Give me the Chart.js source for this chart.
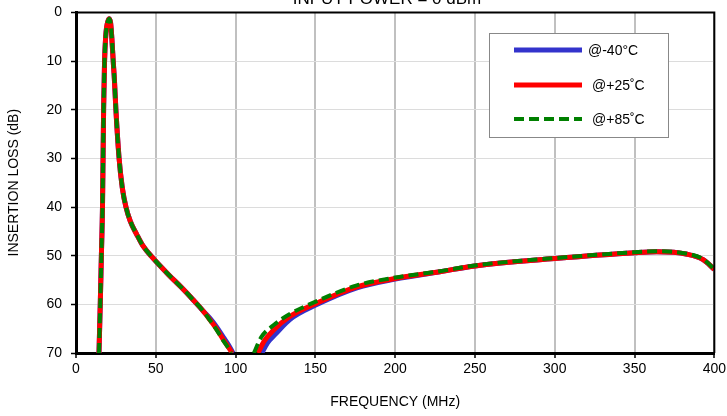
<!DOCTYPE html>
<html>
<head>
<meta charset="utf-8">
<script src="https://cdn.jsdelivr.net/npm/chart.js@4.4.0/dist/chart.umd.min.js"></script>
<style>
  html, body { margin: 0; padding: 0; background: #fff; overflow: hidden; }
  #wrap { width: 727px; height: 416px; position: relative; overflow: hidden; }
  #lossChart { position: absolute; left: 0; top: -5px; }
</style>
</head>
<body>
<div id="wrap"><canvas id="lossChart" width="729" height="421"></canvas></div>
<script>
// shared filter skirt (all three temperatures overlap here)
var skirtFreq = [14.4, 15.2, 15.9, 16.6, 17.3, 17.9, 18.6, 19.2, 20.0, 20.9, 21.7, 22.4, 23.3, 24.1, 25.0, 27.0, 29.0, 31.3, 34.0, 38.0, 42.0, 48.0, 58.0, 66.0, 73.5, 80.0];
var skirtLoss = [70, 60, 50, 40, 20, 10, 5, 3, 1.8, 1.3, 2.2, 5, 9.9, 14, 20, 30, 36, 40, 42.9, 45.6, 48.0, 50.4, 53.9, 56.5, 59.1, 61.5];

// -40C
var fallFreqCold = [84, 88, 92.4, 95.5, 98.4];
var fallLossCold = [62.9, 64.6, 66.8, 68.3, 70];
var riseFreqCold = [116.5, 120, 125, 134, 150.5, 176, 200, 228, 250, 300, 350, 364, 383, 393, 400];
var riseLossCold = [70, 67.9, 66.1, 63.1, 60.1, 56.6, 54.8, 53.3, 52.1, 50.6, 49.4, 49.2, 49.7, 50.8, 52.8];

// +25C
var fallFreqRoom = [84, 88, 92.4, 95.5, 97.8];
var fallLossRoom = [63.2, 65, 67.3, 68.8, 70];
var riseFreqRoom = [114, 118, 123.7, 134, 150.5, 176, 200, 228, 250, 300, 350, 364, 383, 393, 400];
var riseLossRoom = [70, 67.5, 65.3, 62.5, 59.8, 56.4, 54.7, 53.3, 52.1, 50.6, 49.4, 49.2, 49.7, 50.8, 52.8];

// +85C
var fallFreqHot = [84, 88, 92.4, 95.5, 97.2];
var fallLossHot = [63.3, 65.2, 67.5, 69, 70];
var riseFreqHot = [111.5, 116, 123.7, 134, 150.5, 176, 200, 228, 250, 300, 350, 364, 383, 393, 400];
var riseLossHot = [70, 66.8, 64.3, 62, 59.4, 56.1, 54.5, 53.2, 52, 50.5, 49.3, 49.1, 49.6, 50.7, 52.8];

var xTicks = [0, 50, 100, 150, 200, 250, 300, 350, 400];
var yTicks = [0, 10, 20, 30, 40, 50, 60, 70];
var seriesNames = ['@-40\u00B0C', '@+25\u02DAC', '@+85\u02DAC'];

function buildPoints(fallF, fallL, riseF, riseL) {
  var pts = [];
  skirtFreq.forEach(function(f, i) { pts.push({x: f, y: skirtLoss[i]}); });
  fallF.forEach(function(f, i) { pts.push({x: f, y: fallL[i]}); });
  pts.push({x: 105, y: null});
  riseF.forEach(function(f, i) { pts.push({x: f, y: riseL[i]}); });
  return pts;
}

var FONT = 'Liberation Sans, Arial, sans-serif';
var SHIFT = 5; // canvas sits 5px above the page

var frame = {
  id: 'frame',
  afterDraw: function(chart) {
    var ctx = chart.ctx, a = chart.chartArea;
    ctx.save();
    ctx.strokeStyle = '#000';
    ctx.lineWidth = 2;
    ctx.beginPath();
    ctx.moveTo(a.left, a.top);
    ctx.lineTo(a.right, a.top);
    ctx.lineTo(a.right, a.bottom);
    ctx.stroke();

    // title, partly cut by the top edge
    ctx.fillStyle = '#000';
    ctx.font = '17px ' + FONT;
    ctx.textAlign = 'center';
    ctx.textBaseline = 'alphabetic';
    ctx.fillText('INPUT POWER = 0 dBm', 387, 4 + SHIFT);

    // legend box
    var bx = 489, by = 33 + SHIFT, bw = 179, bh = 104;
    ctx.fillStyle = '#fff';
    ctx.fillRect(bx, by, bw, bh);
    ctx.strokeStyle = '#888';
    ctx.lineWidth = 1;
    ctx.strokeRect(bx + 0.5, by + 0.5, bw, bh);
    var rows = [50, 85, 119];
    ctx.font = '14px ' + FONT;
    ctx.textAlign = 'left';
    ctx.textBaseline = 'middle';
    chart.data.datasets.forEach(function(ds, i) {
      var ry = rows[i] + SHIFT;
      ctx.save();
      ctx.strokeStyle = ds.borderColor;
      ctx.lineWidth = ds.borderWidth;
      ctx.setLineDash(ds.borderDash || []);
      ctx.lineCap = 'butt';
      ctx.beginPath();
      ctx.moveTo(514, ry);
      ctx.lineTo(582, ry);
      ctx.stroke();
      ctx.restore();
      ctx.fillStyle = '#000';
      ctx.fillText(ds.label, i === 0 ? 588 : 592, ry + 1);
    });
    ctx.restore();
  }
};

var ctx = document.getElementById('lossChart').getContext('2d');
new Chart(ctx, {
  type: 'line',
  data: {
    datasets: [{
      label: seriesNames[0],
      data: buildPoints(fallFreqCold, fallLossCold, riseFreqCold, riseLossCold),
      borderColor: '#3333cc',
      borderWidth: 5,
      order: 2
    }, {
      label: seriesNames[1],
      data: buildPoints(fallFreqRoom, fallLossRoom, riseFreqRoom, riseLossRoom),
      borderColor: '#ff0000',
      borderWidth: 5,
      order: 1
    }, {
      label: seriesNames[2],
      data: buildPoints(fallFreqHot, fallLossHot, riseFreqHot, riseLossHot),
      borderColor: '#008000',
      borderWidth: 4,
      borderDash: [10, 5],
      order: 0
    }]
  },
  options: {
    responsive: false,
    animation: false,
    devicePixelRatio: 1,
    spanGaps: false,
    elements: {
      point: { radius: 0 },
      line: { cubicInterpolationMode: 'monotone', fill: false }
    },
    layout: { padding: { left: 0, top: 7, right: 11, bottom: 0 } },
    plugins: { legend: { display: false }, tooltip: { enabled: false } },
    scales: {
      x: {
        type: 'linear',
        min: 0,
        max: 400,
        afterBuildTicks: function(scale) { scale.ticks = xTicks.map(function(v) { return {value: v}; }); },
        afterFit: function(scale) { scale.height = 63; },
        ticks: { color: '#000', font: { family: FONT, size: 14 }, padding: 3, maxRotation: 0, autoSkip: false },
        grid: { color: '#c0c0c0', lineWidth: 2, tickColor: '#000', tickLength: 5, tickWidth: 1.5 },
        border: { color: '#000', width: 3 },
        title: { display: true, text: 'FREQUENCY (MHz)', color: '#000', font: { family: FONT, size: 14 }, padding: { top: 0, bottom: 5 } }
      },
      y: {
        reverse: true,
        min: 0,
        max: 70,
        afterBuildTicks: function(scale) { scale.ticks = yTicks.map(function(v) { return {value: v}; }); },
        afterFit: function(scale) { scale.width = 76; },
        ticks: { color: '#000', font: { family: FONT, size: 14 }, padding: 9, autoSkip: false },
        grid: { color: '#dcdcdc', lineWidth: 1, tickColor: '#000', tickLength: 5, tickWidth: 1.5 },
        border: { color: '#000', width: 3 },
        title: { display: true, text: 'INSERTION LOSS (dB)', color: '#000', font: { family: FONT, size: 14 }, padding: { top: 6, bottom: 0 } }
      }
    }
  },
  plugins: [frame]
});
</script>
</body>
</html>
